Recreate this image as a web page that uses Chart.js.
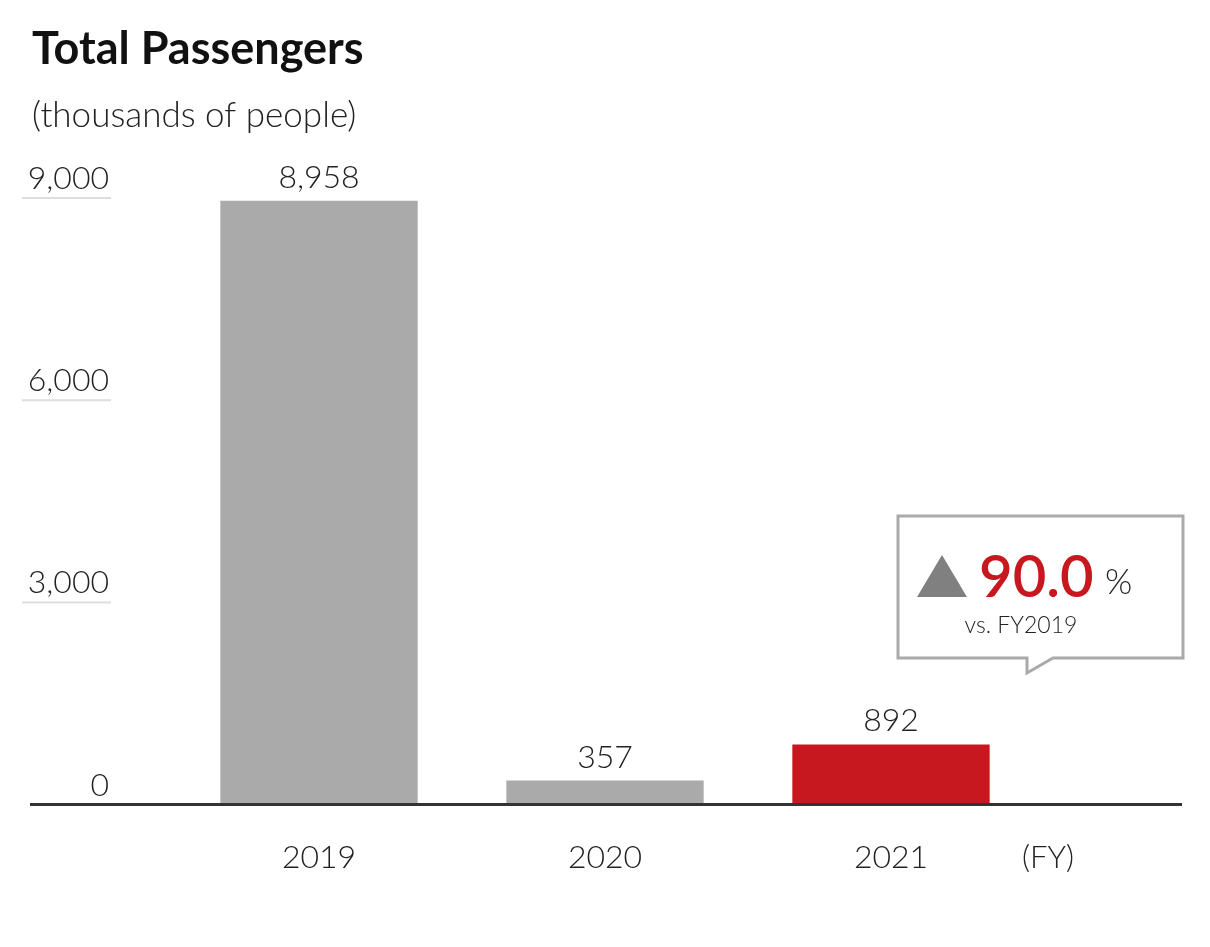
<!DOCTYPE html>
<html>
<head>
<meta charset="utf-8">
<script src="https://cdn.jsdelivr.net/npm/chart.js@4.4.1/dist/chart.umd.min.js"></script>
<style>
  html, body { margin: 0; padding: 0; background: #fff; }
  #wrap { width: 1210px; height: 947px; }
</style>
</head>
<body>
<div id="wrap"><canvas id="passengers"></canvas></div>
<script>
// data
const years = ["2019", "2020", "2021"];
const passengers = [8958, 357, 892];
const barColors = ["#aaaaaa", "#aaaaaa", "#c8181f"];
const yTicks = [0, 3000, 6000, 9000];
const changePct = "90.0";

const FONT = "Lato, 'Noto Sans', sans-serif";

// short gridlines + tick labels at the left, long baseline, value labels, (FY)
const decorations = {
    id: "decorations",
    afterDraw(chart) {
        const ctx = chart.ctx;
        const y = chart.scales.y;
        const x = chart.scales.x;
        ctx.save();

        // y tick labels sit above their short line
        ctx.font = "300 32px " + FONT;
        ctx.fillStyle = "#222";
        ctx.textAlign = "right";
        ctx.textBaseline = "alphabetic";
        yTicks.forEach(v => {
            const py = y.getPixelForValue(v);
            if (v !== 0) {
                ctx.strokeStyle = "#dddddd";
                ctx.lineWidth = 2;
                ctx.beginPath();
                ctx.moveTo(22, py);
                ctx.lineTo(111, py);
                ctx.stroke();
            }
            ctx.fillText(v.toLocaleString("en-US"), 109, py - 9);
        });

        // baseline
        const base = y.getPixelForValue(0);
        ctx.strokeStyle = "#333";
        ctx.lineWidth = 3;
        ctx.beginPath();
        ctx.moveTo(30, base);
        ctx.lineTo(1182, base);
        ctx.stroke();

        // value labels
        ctx.font = "300 32px " + FONT;
        ctx.textAlign = "center";
        ctx.fillStyle = "#222";
        chart.getDatasetMeta(0).data.forEach((bar, i) => {
            ctx.fillText(passengers[i].toLocaleString("en-US"), bar.x, bar.y - 13);
        });

        // (FY) on the same line as the year labels
        ctx.textBaseline = "middle";
        ctx.font = "300 31px " + FONT;
        ctx.fillText("(FY)", 1048, x.top + 53);

        // callout box
        const bx = 898, by = 516, bw = 285, bh = 142;
        ctx.strokeStyle = "#aaaaaa";
        ctx.lineWidth = 3;
        ctx.fillStyle = "#fff";
        ctx.beginPath();
        ctx.moveTo(bx, by);
        ctx.lineTo(bx + bw, by);
        ctx.lineTo(bx + bw, by + bh);
        ctx.lineTo(1053, by + bh);
        ctx.lineTo(1027, by + bh + 15);
        ctx.lineTo(1027, by + bh);
        ctx.lineTo(bx, by + bh);
        ctx.closePath();
        ctx.fill();
        ctx.stroke();

        // triangle
        ctx.fillStyle = "#808080";
        ctx.beginPath();
        ctx.moveTo(942, 555);
        ctx.lineTo(967, 597);
        ctx.lineTo(917, 597);
        ctx.closePath();
        ctx.fill();

        ctx.textAlign = "left";
        ctx.textBaseline = "alphabetic";
        ctx.fillStyle = "#c8181f";
        ctx.font = "600 58px " + FONT;
        ctx.fillText(changePct, 979, 597);
        ctx.fillStyle = "#222";
        ctx.font = "300 35px " + FONT;
        ctx.fillText("%", 1105, 594);
        ctx.textAlign = "center";
        ctx.font = "300 23px " + FONT;
        ctx.fillText("vs. FY2019", 1021, 633);

        ctx.restore();
    }
};

new Chart(document.getElementById("passengers"), {
    type: "bar",
    data: {
        labels: years,
        datasets: [{
            data: passengers,
            backgroundColor: barColors,
            borderWidth: 0,
            barPercentage: 0.69,
            categoryPercentage: 1
        }]
    },
    options: {
        responsive: true,
        maintainAspectRatio: false,
        animation: false,
        layout: { padding: { left: 32, right: 176, top: 0, bottom: 36 } },
        plugins: {
            legend: { display: false },
            tooltip: { enabled: false },
            title: {
                display: true,
                text: "Total Passengers",
                align: "start",
                color: "#111",
                font: { family: FONT, size: 45, weight: "bold", lineHeight: 1.2 },
                padding: { top: 22, bottom: 0 }
            },
            subtitle: {
                display: true,
                text: "(thousands of people)",
                align: "start",
                color: "#222",
                font: { family: FONT, size: 35, weight: 300, lineHeight: 1.2 },
                padding: { top: 19, bottom: 61 }
            }
        },
        scales: {
            x: {
                grid: { display: false, drawTicks: false },
                border: { display: false },
                ticks: {
                    color: "#222",
                    padding: 34,
                    font: { family: FONT, size: 32, weight: 300, lineHeight: 1.2 }
                }
            },
            y: {
                min: 0,
                max: 9000,
                grid: { display: false, drawTicks: false },
                border: { display: false },
                ticks: { display: false, stepSize: 3000 },
                afterFit(scale) { scale.width = 144; }
            }
        }
    },
    plugins: [decorations]
});
</script>
</body>
</html>
